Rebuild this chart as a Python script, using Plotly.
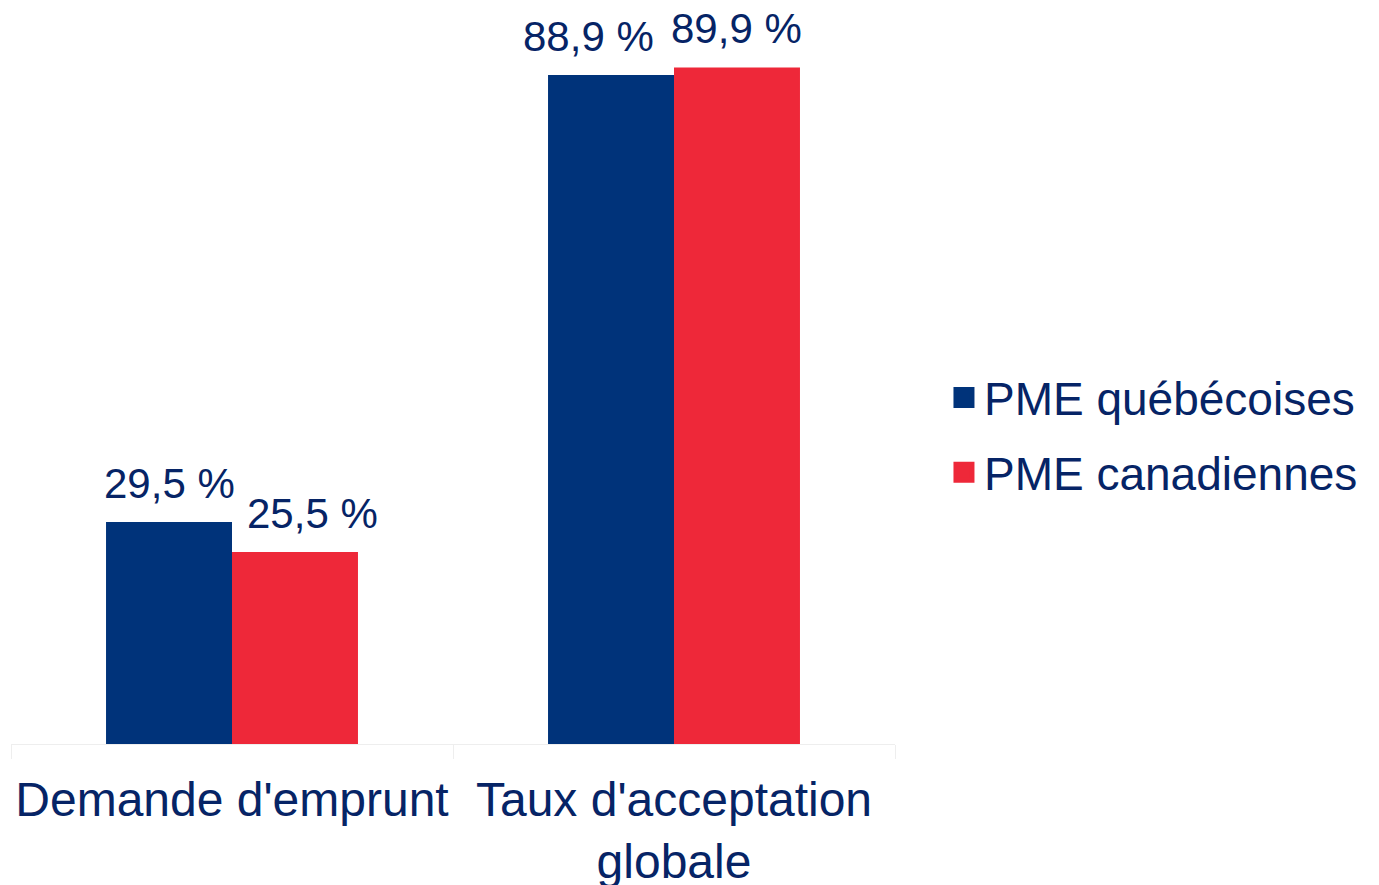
import plotly.graph_objects as go

categories = ["Demande d'emprunt", "Taux d'acceptation<br>globale"]
series_names = ["PME québécoises", "PME canadiennes"]
quebec_values = [29.5, 88.9]
canada_values = [25.5, 89.9]
label_quebec = ["29,5 %", "88,9 %"]
label_canada = ["25,5 %", "89,9 %"]

NAVY = "#00337A"
RED = "#EE2839"
TEXT = "#062466"
FONT = "Liberation Sans, Arial, sans-serif"

# layout geometry (page body has an 8px margin)
W, H = 1371, 877
M_L, M_R, M_T, M_B = 3, 484, 2, 141
BARGAP = 0.43
plot_w = W - M_L - M_R
bar_px = plot_w / len(categories) * (1 - BARGAP) / 2
# small horizontal nudges of data labels (to avoid overlap, as in reference)
nudge_quebec = [0, -23]
nudge_canada = [18, 0]

fig = go.Figure()
fig.add_trace(go.Bar(
    x=categories, y=quebec_values, name=series_names[0],
    legendgroup="q",
    marker=dict(color=NAVY, line=dict(width=0)),
    showlegend=False,
))
fig.add_trace(go.Bar(
    x=categories, y=canada_values, name=series_names[1],
    legendgroup="c",
    marker=dict(color=RED, line=dict(width=0)),
    showlegend=False,
))
# legend entries with larger square symbols
for name, col, grp in [(series_names[0], NAVY, "q"), (series_names[1], RED, "c")]:
    fig.add_trace(go.Scatter(
        x=[None], y=[None], mode="markers", name=name, legendgroup=grp,
        marker=dict(symbol="square", size=16, color=col, line=dict(color=col, width=5)),
        showlegend=True,
    ))

annotations = []
for vals, labels, sign, nudges in [(quebec_values, label_quebec, -1, nudge_quebec),
                                   (canada_values, label_canada, 1, nudge_canada)]:
    for cat, v, lab, nd in zip(categories, vals, labels, nudges):
        annotations.append(dict(
            x=cat, y=v, xref="x", yref="y", text=lab, showarrow=False,
            xanchor="center", yanchor="bottom",
            xshift=sign * bar_px / 2 + nd, yshift=13,
            font=dict(size=42, color=TEXT, family=FONT),
        ))

fig.update_layout(
    width=W, height=H,
    margin=dict(l=M_L, r=M_R, t=M_T, b=M_B, autoexpand=False),
    paper_bgcolor="white", plot_bgcolor="white",
    barmode="group", bargap=BARGAP, bargroupgap=0,
    font=dict(family=FONT, color=TEXT),
    legend=dict(
        x=1.0554, y=0.421, xanchor="left", yanchor="middle",
        font=dict(size=46, color=TEXT, family=FONT),
        bgcolor="rgba(0,0,0,0)",
        tracegroupgap=12,
    ),
    showlegend=True,
    annotations=annotations,
)
fig.update_xaxes(
    showline=True, linecolor="#EEEEEE", linewidth=1,
    ticks="outside", tickson="boundaries", ticklen=14, tickcolor="#EEEEEE",
    tickfont=dict(size=48, color=TEXT, family=FONT),
    tickangle=0, automargin=False,
    ticklabelstandoff=13,
    showgrid=False,
)
fig.update_yaxes(
    range=[0, 97.54], visible=False, showgrid=False, zeroline=False,
    automargin=False,
)

fig.write_html("out.html")
